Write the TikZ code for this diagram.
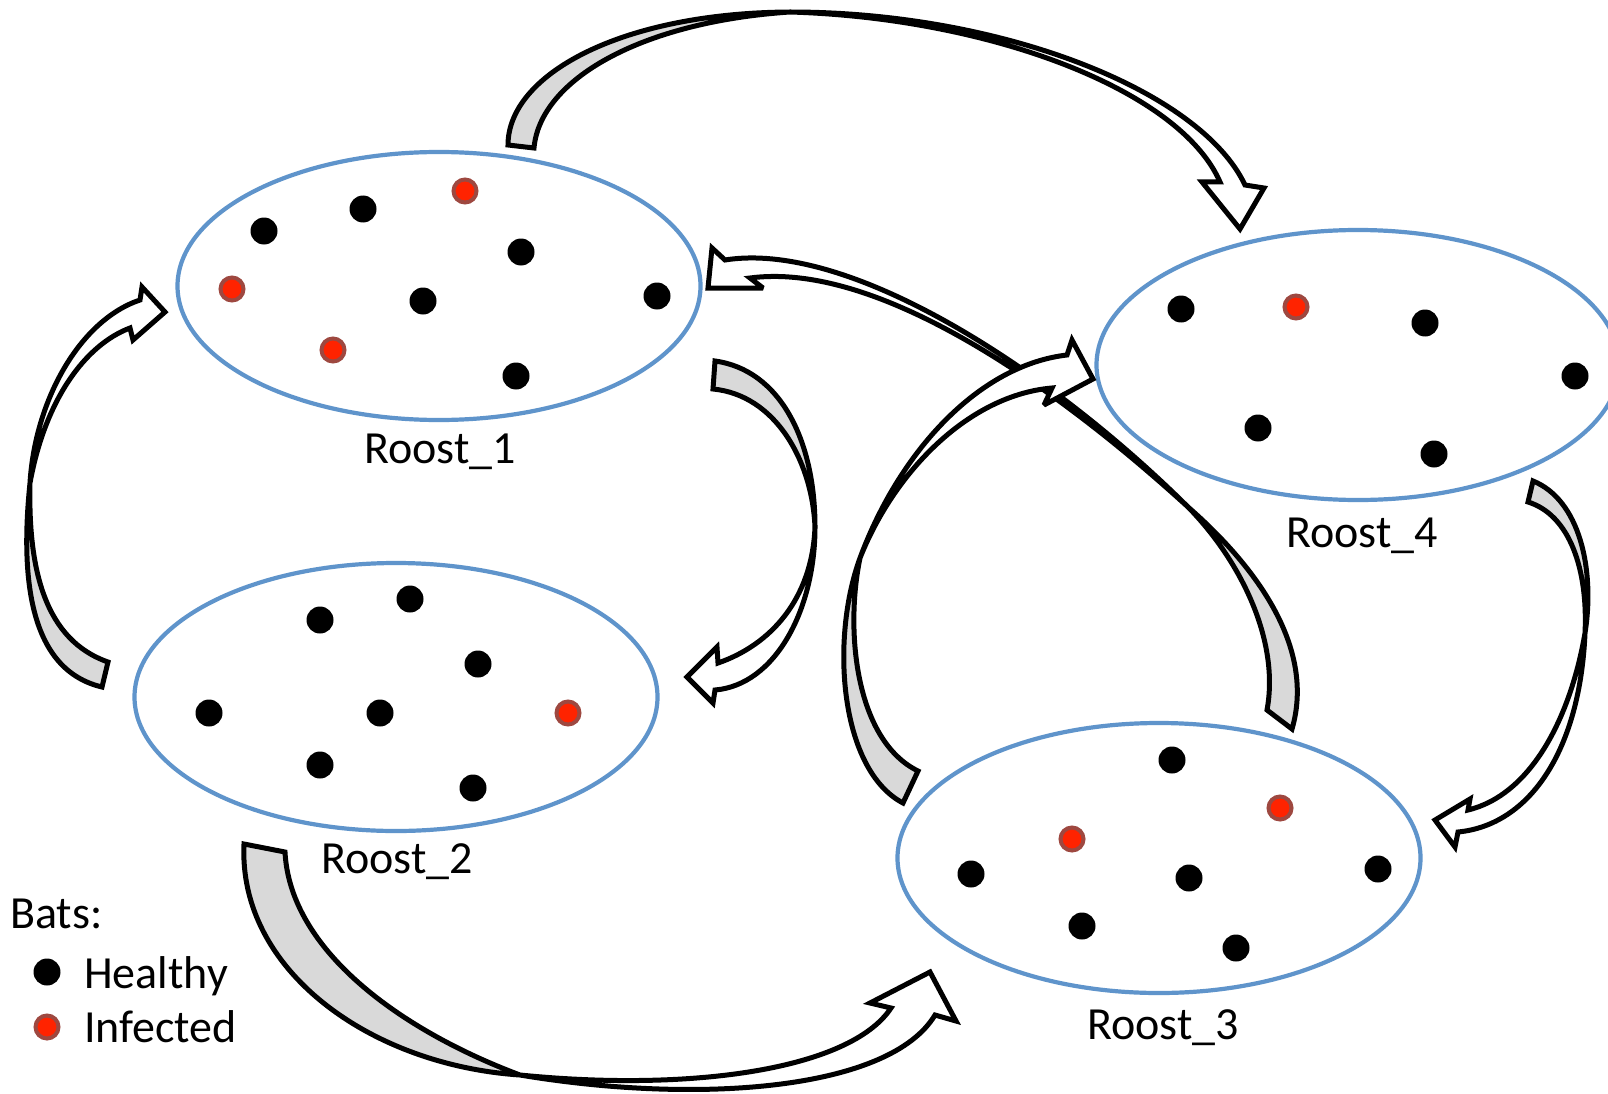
\documentclass[tikz,border=0pt]{standalone}
\usepackage{fontspec}
\setmainfont{Carlito}
\usetikzlibrary{shapes.geometric}
\definecolor{roostblue}{RGB}{95,148,203}
\definecolor{arrgray}{RGB}{217,217,217}
\definecolor{batred}{RGB}{255,35,0}
\definecolor{batring}{RGB}{158,72,64}
\tikzset{
  roost/.style={ellipse, draw=roostblue, line width=4.2pt, minimum width=523pt, minimum height=268pt, inner sep=0pt},
  hbat/.style={circle, fill=black, minimum size=27pt, inner sep=0pt},
  ibat/.style={circle, fill=batred, draw=batring, line width=4pt, minimum size=23pt, inner sep=0pt},
  lbl/.style={font=\fontsize{46pt}{55pt}\selectfont, inner sep=0pt},
  arrface/.style={fill=white},
  arrback/.style={fill=arrgray},
  arredge/.style={draw=black, line width=5pt, line join=miter, miter limit=3},
}
% #1 back (grey) outer edge: tail -> twist point
% #2 front outer edge: twist point -> shaft end
% #3 arrow head: barb -- tip -- barb
% #4 front inner edge: shaft end -> twist point
% #5 back inner edge: twist point -> tail
\newcommand{\bandarrow}[5]{%
  \path[arrface] #1 -- #2 -- #3 -- #4 -- #5 -- cycle;
  \path[arrback] #1 -- #5 -- cycle;
  \path[arredge] #1 -- #2 -- #3 -- #4 -- #5 -- cycle;
}
\begin{document}
\begin{tikzpicture}[x=1pt, y=-1pt]
\useasboundingbox (0,0) rectangle (1608,1094);
\clip (0,0) rectangle (1608,1094);
\fill[white] (0,0) rectangle (1608,1094);

% roosts
\node[roost] (r1) at (439,286) {};
\node[roost] (r2) at (396,697) {};
\node[roost, minimum height=270pt] (r3) at (1159,858) {};
\node[roost, minimum height=270pt] (r4) at (1358,365) {};

% bats in Roost 1
\node[hbat] (b11) at (264,231) {};
\node[hbat] (b12) at (363,209) {};
\node[hbat] (b13) at (521,252) {};
\node[hbat] (b14) at (423,301) {};
\node[hbat] (b15) at (657,296) {};
\node[hbat] (b16) at (516,376) {};
\node[ibat] (i11) at (465,191) {};
\node[ibat] (i12) at (232,289) {};
\node[ibat] (i13) at (333,350) {};
% Roost 2
\node[hbat] (b21) at (410,599) {};
\node[hbat] (b22) at (320,620) {};
\node[hbat] (b23) at (478,664) {};
\node[hbat] (b24) at (209,713) {};
\node[hbat] (b25) at (380,713) {};
\node[hbat] (b26) at (320,765) {};
\node[hbat] (b27) at (473,788) {};
\node[ibat] (i21) at (568,713) {};
% Roost 3
\node[hbat] (b31) at (1172,760) {};
\node[hbat] (b32) at (971,874) {};
\node[hbat] (b33) at (1189,878) {};
\node[hbat] (b34) at (1378,869) {};
\node[hbat] (b35) at (1082,926) {};
\node[hbat] (b36) at (1236,948) {};
\node[ibat] (i31) at (1280,808) {};
\node[ibat] (i32) at (1072,839) {};
% Roost 4
\node[hbat] (b41) at (1181,309) {};
\node[hbat] (b42) at (1425,323) {};
\node[hbat] (b43) at (1575,376) {};
\node[hbat] (b44) at (1258,428) {};
\node[hbat] (b45) at (1434,454) {};
\node[ibat] (i41) at (1296,307) {};

% labels
\node[lbl, anchor=base] (l1) at (440,463) {Roost\_1};
\node[lbl, anchor=base] (l2) at (397,873) {Roost\_2};
\node[lbl, anchor=base] (l3) at (1163,1039) {Roost\_3};
\node[lbl, anchor=base] (l4) at (1362,547) {Roost\_4};

% legend
\node[lbl, anchor=base west] (bats) at (10,928) {Bats:};
\node[hbat] (lh) at (47,972) {};
\node[lbl, anchor=base west] (th) at (84,988) {Healthy};
\node[ibat] (li) at (47,1027) {};
\node[lbl, anchor=base west] (ti) at (84,1042) {Infected};

% arrow F: Roost_3 -> Roost_1
\bandarrow{(1292,729) .. controls (1315,650) and (1260,570) .. (1188,507)}
          {(1188,507) .. controls (1050,370) and (850,240) .. (725,260)}
          {(712,248) -- (708,288) -- (763,288)}
          {(750,278) .. controls (870,262) and (1040,372) .. (1188,507)}
          {(1188,507) .. controls (1240,560) and (1280,640) .. (1267,710)}
% arrow E: Roost_3 -> Roost_4
\bandarrow{(903,803) .. controls (840,770) and (830,640) .. (860,558)}
          {(860,558) .. controls (900,450) and (980,365) .. (1067,355)}
          {(1072,340) -- (1093,379) -- (1044,405)}
          {(1052,388) .. controls (970,395) and (895,470) .. (860,558)}
          {(860,558) .. controls (845,630) and (855,740) .. (918,771)}
% arrow A: Roost_1 -> Roost_4
\bandarrow{(508,145) .. controls (508,75) and (620,13) .. (790,12)}
          {(790,12) .. controls (1000,12) and (1200,90) .. (1245,185)}
          {(1264,188) -- (1240,229) -- (1202,182)}
          {(1220,182) .. controls (1180,90) and (990,18) .. (790,12)}
          {(790,12) .. controls (640,22) and (540,80) .. (534,148)}
% arrow B: Roost_2 -> Roost_1
\bandarrow{(102,687) .. controls (30,670) and (20,580) .. (30,483)}
          {(30,483) .. controls (35,400) and (80,320) .. (140,300)}
          {(142,287) -- (165,312) -- (133,340)}
          {(130,328) .. controls (85,345) and (45,400) .. (30,483)}
          {(30,483) .. controls (28,570) and (45,640) .. (108,662)}
% arrow C: Roost_1 -> Roost_2
\bandarrow{(715,361) .. controls (780,370) and (815,440) .. (815,527)}
          {(815,527) .. controls (815,610) and (775,685) .. (715,690)}
          {(713,703) -- (687,677) -- (717,647)}
          {(718,663) .. controls (770,645) and (812,600) .. (815,527)}
          {(815,527) .. controls (812,460) and (775,395) .. (713,389)}
% arrow D: Roost_2 -> Roost_3
\bandarrow{(244,844) .. controls (238,970) and (370,1065) .. (520,1075)}
          {(520,1075) .. controls (700,1105) and (890,1090) .. (935,1015)}
          {(956,1021) -- (930,972) -- (870,1003)}
          {(891,1008) .. controls (850,1070) and (690,1092) .. (520,1075)}
          {(520,1075) .. controls (400,1030) and (290,950) .. (285,852)}
% arrow G: Roost_4 -> Roost_3
\bandarrow{(1533,481) .. controls (1580,500) and (1595,570) .. (1585,633)}
          {(1585,633) .. controls (1580,750) and (1530,825) .. (1458,832)}
          {(1455,847) -- (1435,820) -- (1470,799)}
          {(1468,810) .. controls (1530,795) and (1570,720) .. (1585,633)}
          {(1585,633) .. controls (1588,570) and (1570,515) .. (1528,502)}
\end{tikzpicture}
\end{document}
